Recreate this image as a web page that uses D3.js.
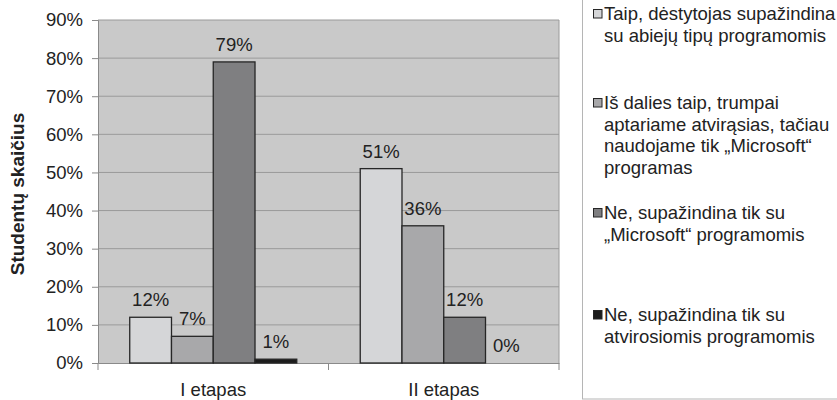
<!DOCTYPE html>
<html>
<head>
<meta charset="utf-8">
<script src="https://cdn.jsdelivr.net/npm/d3@7"></script>
<style>
  html, body { margin: 0; padding: 0; background: #fff; }
  svg { display: block; font-family: "Liberation Sans", Arial, sans-serif; }
</style>
</head>
<body>
<svg id="chart" width="837" height="400"></svg>
<script>
const categories = ["I etapas", "II etapas"];
const seriesNames = [
  ["Taip, dėstytojas supažindina", "su abiejų tipų programomis"],
  ["Iš dalies taip, trumpai", "aptariame atvirąsias, tačiau", "naudojame tik „Microsoft“", "programas"],
  ["Ne, supažindina tik su", "„Microsoft“ programomis"],
  ["Ne, supažindina tik su", "atvirosiomis programomis"]
];
const seriesValues = [
  [12, 51],
  [7, 36],
  [79, 12],
  [1, 0]
];
const yTicks = [0, 10, 20, 30, 40, 50, 60, 70, 80, 90];
const seriesColors = ["#d5d6d8", "#a8a8aa", "#7f7f81", "#1c1c1c"];
const legendLineY = [14, 103, 213, 315];

const svg = d3.select("#chart");
const plot = { left: 98, right: 559, top: 20, bottom: 363 };

const x0 = d3.scaleBand().domain(categories).range([plot.left, plot.right]).padding(0);
const x1 = d3.scaleBand().domain(d3.range(seriesValues.length))
  .range([0, x0.bandwidth()]).paddingInner(0).paddingOuter(0.76);
const y = d3.scaleLinear().domain([0, 90]).range([plot.bottom, plot.top]);

// plot background
svg.append("rect")
  .attr("x", plot.left).attr("y", plot.top)
  .attr("width", plot.right - plot.left).attr("height", plot.bottom - plot.top)
  .attr("fill", "#c9c9c9");

// gridlines
svg.append("g").selectAll("line").data(yTicks.filter(d => d > 0)).join("line")
  .attr("x1", plot.left).attr("x2", plot.right)
  .attr("y1", d => y(d)).attr("y2", d => y(d))
  .attr("stroke", "#9a9a9a").attr("stroke-width", 1);

svg.append("line").attr("x1", plot.right).attr("x2", plot.right)
  .attr("y1", plot.top).attr("y2", plot.bottom).attr("stroke", "#9a9a9a");

// y axis
const yAxis = d3.axisLeft(y).tickValues(yTicks).tickFormat(d => d + "%").tickSize(6).tickPadding(9);
const gy = svg.append("g").attr("transform", `translate(${plot.left},0)`).call(yAxis);
gy.select(".domain").attr("stroke", "#8a8a8a");
gy.selectAll(".tick line").attr("stroke", "#8a8a8a");
gy.selectAll("text").attr("font-size", 18.5).attr("fill", "#222")
  .attr("font-family", "'Liberation Sans', Arial, sans-serif");

// x axis
const xAxis = d3.axisBottom(x0).tickSize(0).tickPadding(20);
const gx = svg.append("g").attr("transform", `translate(0,${plot.bottom})`).call(xAxis);
gx.select(".domain").attr("stroke", "#8a8a8a");
gx.selectAll("text").attr("font-size", 18.5).attr("fill", "#222")
  .attr("font-family", "'Liberation Sans', Arial, sans-serif");
const sepX = [plot.left, ...categories.map(c => x0(c) + x0.bandwidth())];
svg.append("g").selectAll("line").data(sepX).join("line")
  .attr("x1", d => d).attr("x2", d => d)
  .attr("y1", plot.bottom).attr("y2", plot.bottom + 7)
  .attr("stroke", "#8a8a8a");

// bars
const groups = svg.append("g").selectAll("g").data(seriesValues).join("g")
  .attr("fill", (d, i) => seriesColors[i]);
groups.each(function(vals, si) {
  const g = d3.select(this);
  g.selectAll("rect").data(vals).join("rect")
    .attr("x", (d, ci) => x0(categories[ci]) + x1(si))
    .attr("y", d => y(d))
    .attr("width", x1.bandwidth())
    .attr("height", d => y(0) - y(d))
    .attr("stroke", "#262626").attr("stroke-width", 1.3);
  g.selectAll("text").data(vals).join("text")
    .attr("x", (d, ci) => x0(categories[ci]) + x1(si) + x1.bandwidth() / 2)
    .attr("y", d => y(d) - 11)
    .attr("text-anchor", "middle")
    .attr("font-size", 18.5).attr("fill", "#222")
    .text(d => d + "%");
});

// y title
svg.append("text")
  .attr("transform", `translate(24,194) rotate(-90)`)
  .attr("text-anchor", "middle")
  .attr("font-size", 19).attr("font-weight", "bold").attr("fill", "#222")
  .text("Studentų skaičius");

// legend box
svg.append("rect")
  .attr("x", 582.5).attr("y", -5).attr("width", 300).attr("height", 404)
  .attr("fill", "#fff").attr("stroke", "#b5b5b5").attr("stroke-width", 1);

const leg = svg.append("g").selectAll("g").data(seriesNames).join("g")
  .attr("transform", (d, i) => `translate(0,${legendLineY[i]})`);
leg.append("rect")
  .attr("x", 593.5).attr("y", -4.5).attr("width", 8.5).attr("height", 8.5)
  .attr("fill", (d, i) => seriesColors[i]).attr("stroke", "#262626").attr("stroke-width", 1);
leg.append("text")
  .attr("font-size", 18.5).attr("fill", "#222")
  .selectAll("tspan").data(d => d).join("tspan")
  .attr("x", 604)
  .attr("y", (d, i) => i * 21.5)
  .attr("dy", "0.35em")
  .text(d => d);
</script>
</body>
</html>
